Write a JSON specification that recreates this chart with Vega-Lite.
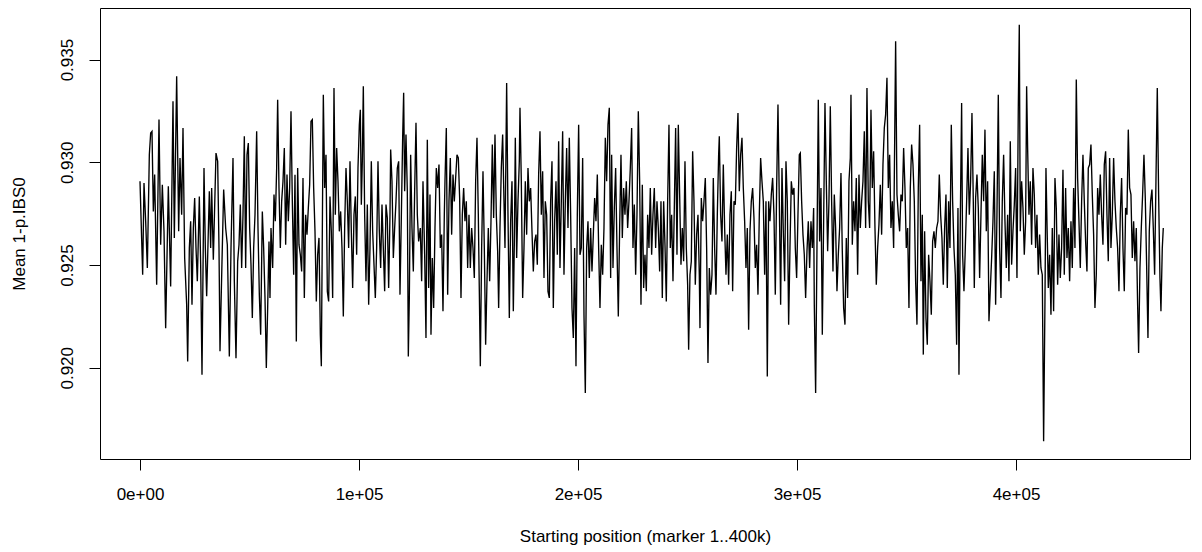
{
"$schema": "https://vega.github.io/schema/vega-lite/v6.json",
"width": 1090, "height": 451,
"autosize": "none",
"padding": {"left": 100, "top": 8, "right": 12, "bottom": 93},
"background": "white",
"config": {"view": {"stroke": "black", "strokeWidth": 1}, "font": "Liberation Sans"},
"data": {"values": [
{"pos":0,"mean":0.92908},{"pos":1218,"mean":0.92453},{"pos":1826,"mean":0.92899},{"pos":2587,"mean":0.92713},{"pos":3348,"mean":0.92486},{"pos":4262,"mean":0.93037},{"pos":4870,"mean":0.93143},{"pos":5479,"mean":0.93151},{"pos":6088,"mean":0.92761},{"pos":6697,"mean":0.9294},{"pos":7610,"mean":0.92404},{"pos":8675,"mean":0.93208},{"pos":9436,"mean":0.92599},{"pos":10197,"mean":0.92891},{"pos":10958,"mean":0.92664},{"pos":11719,"mean":0.92193},{"pos":12937,"mean":0.92883},{"pos":13998,"mean":0.92396},{"pos":15068,"mean":0.93297},{"pos":15677,"mean":0.92632},{"pos":16742,"mean":0.93419},{"pos":17655,"mean":0.92664},{"pos":18264,"mean":0.93021},{"pos":19025,"mean":0.92745},{"pos":19634,"mean":0.93167},{"pos":20395,"mean":0.92534},{"pos":21308,"mean":0.92307},{"pos":21765,"mean":0.92031},{"pos":22527,"mean":0.92583},{"pos":23134,"mean":0.92713},{"pos":23743,"mean":0.92307},{"pos":24352,"mean":0.9268},{"pos":24961,"mean":0.92826},{"pos":25570,"mean":0.92583},{"pos":26178,"mean":0.92421},{"pos":27092,"mean":0.92834},{"pos":27700,"mean":0.92502},{"pos":28309,"mean":0.91966},{"pos":29222,"mean":0.92972},{"pos":29831,"mean":0.92583},{"pos":30440,"mean":0.92348},{"pos":31658,"mean":0.92859},{"pos":32266,"mean":0.92583},{"pos":32723,"mean":0.92875},{"pos":33484,"mean":0.92526},{"pos":34702,"mean":0.93045},{"pos":35463,"mean":0.93005},{"pos":36071,"mean":0.92583},{"pos":36528,"mean":0.9208},{"pos":37441,"mean":0.92518},{"pos":38202,"mean":0.92867},{"pos":39115,"mean":0.9268},{"pos":39876,"mean":0.92599},{"pos":40790,"mean":0.92055},
{"pos":41551,"mean":0.92583},{"pos":42464,"mean":0.93021},{"pos":43073,"mean":0.92421},{"pos":43834,"mean":0.92047},{"pos":44595,"mean":0.92518},{"pos":45203,"mean":0.92599},{"pos":45812,"mean":0.92794},{"pos":46421,"mean":0.92486},{"pos":47030,"mean":0.92745},{"pos":47639,"mean":0.93127},{"pos":48247,"mean":0.92486},{"pos":48856,"mean":0.93037},{"pos":49465,"mean":0.93094},{"pos":50074,"mean":0.9268},{"pos":50683,"mean":0.92502},{"pos":51291,"mean":0.92242},{"pos":51900,"mean":0.92583},{"pos":52509,"mean":0.92745},{"pos":53270,"mean":0.93151},{"pos":53879,"mean":0.9268},{"pos":54488,"mean":0.92356},{"pos":55096,"mean":0.92161},{"pos":55857,"mean":0.92761},{"pos":56466,"mean":0.92583},{"pos":57075,"mean":0.9234},{"pos":57684,"mean":0.91999},{"pos":58293,"mean":0.92291},{"pos":58901,"mean":0.92615},{"pos":59358,"mean":0.9234},{"pos":59815,"mean":0.9268},{"pos":60576,"mean":0.92486},{"pos":61184,"mean":0.92843},{"pos":61793,"mean":0.92713},{"pos":62402,"mean":0.92972},{"pos":62858,"mean":0.93305},{"pos":63467,"mean":0.92875},{"pos":64076,"mean":0.92583},{"pos":64685,"mean":0.9281},{"pos":65294,"mean":0.92908},{"pos":65903,"mean":0.9307},{"pos":66511,"mean":0.92599},{"pos":67120,"mean":0.9294},{"pos":67729,"mean":0.92713},{"pos":68338,"mean":0.92875},{"pos":68947,"mean":0.93248},{"pos":69555,"mean":0.9281},{"pos":70164,"mean":0.92453},{"pos":70773,"mean":0.9294},{"pos":71382,"mean":0.92128},{"pos":71991,"mean":0.92972},{"pos":72599,"mean":0.92599},{"pos":73208,"mean":0.9255},{"pos":73817,"mean":0.92469},{"pos":74426,"mean":0.92924},{"pos":75035,"mean":0.9234},{"pos":75643,"mean":0.92745},{"pos":76252,"mean":0.92648},{"pos":76861,"mean":0.92778},{"pos":77470,"mean":0.92891},{"pos":78079,"mean":0.932},{"pos":78687,"mean":0.93208},{"pos":79296,"mean":0.92875},{"pos":79905,"mean":0.92664},{"pos":80514,"mean":0.92323},{"pos":81123,"mean":0.9255},{"pos":81731,"mean":0.92632},{"pos":82340,"mean":0.92161},{"pos":82797,"mean":0.92007},{"pos":83710,"mean":0.93329},
{"pos":84319,"mean":0.92875},{"pos":84928,"mean":0.93037},{"pos":85536,"mean":0.92372},{"pos":86145,"mean":0.92323},{"pos":86754,"mean":0.92834},{"pos":87363,"mean":0.92664},{"pos":87972,"mean":0.9234},{"pos":88580,"mean":0.93362},{"pos":89189,"mean":0.92745},{"pos":89798,"mean":0.9307},{"pos":90407,"mean":0.92908},{"pos":91016,"mean":0.92664},{"pos":91624,"mean":0.92761},{"pos":92233,"mean":0.92583},{"pos":92842,"mean":0.9225},{"pos":93451,"mean":0.9268},{"pos":94060,"mean":0.92972},{"pos":94668,"mean":0.9281},{"pos":95277,"mean":0.92583},{"pos":95886,"mean":0.93005},{"pos":96495,"mean":0.92664},{"pos":97104,"mean":0.92388},{"pos":97712,"mean":0.92745},{"pos":98321,"mean":0.92834},{"pos":98930,"mean":0.9255},{"pos":99539,"mean":0.92972},{"pos":100148,"mean":0.93183},{"pos":100604,"mean":0.93256},{"pos":101061,"mean":0.92794},{"pos":101517,"mean":0.93005},{"pos":101974,"mean":0.9337},{"pos":102583,"mean":0.92745},{"pos":103192,"mean":0.92421},{"pos":103800,"mean":0.92794},{"pos":104409,"mean":0.92307},{"pos":105018,"mean":0.92583},{"pos":105627,"mean":0.93005},{"pos":106236,"mean":0.92664},{"pos":106844,"mean":0.92502},{"pos":107453,"mean":0.9234},{"pos":108062,"mean":0.92583},{"pos":108671,"mean":0.93005},{"pos":109280,"mean":0.92664},{"pos":109888,"mean":0.92486},{"pos":110497,"mean":0.92794},{"pos":111106,"mean":0.92583},{"pos":111715,"mean":0.92372},{"pos":112324,"mean":0.92794},{"pos":112932,"mean":0.92729},{"pos":113541,"mean":0.92388},{"pos":114150,"mean":0.92745},{"pos":114454,"mean":0.93062},{"pos":115063,"mean":0.92908},{"pos":115672,"mean":0.92534},{"pos":116281,"mean":0.9268},{"pos":116890,"mean":0.9281},{"pos":117498,"mean":0.92972},{"pos":118107,"mean":0.93005},{"pos":118716,"mean":0.92356},{"pos":119325,"mean":0.92729},{"pos":119934,"mean":0.93119},{"pos":120390,"mean":0.93338},{"pos":120847,"mean":0.92859},{"pos":121456,"mean":0.93135},{"pos":122064,"mean":0.92859},{"pos":122521,"mean":0.92055},{"pos":122978,"mean":0.9234},{"pos":123586,"mean":0.93037},{"pos":124195,"mean":0.9268},{"pos":124804,"mean":0.92469},{"pos":125413,"mean":0.92859},{"pos":126022,"mean":0.93192},{"pos":126630,"mean":0.92745},{"pos":127239,"mean":0.92615},
{"pos":128000,"mean":0.9268},{"pos":128609,"mean":0.92421},{"pos":129218,"mean":0.92908},{"pos":129979,"mean":0.9255},{"pos":130588,"mean":0.92145},{"pos":131196,"mean":0.9311},{"pos":131805,"mean":0.92388},{"pos":132414,"mean":0.92843},{"pos":132871,"mean":0.92161},{"pos":133479,"mean":0.92534},{"pos":134088,"mean":0.92291},{"pos":134697,"mean":0.9268},{"pos":135306,"mean":0.92972},{"pos":135915,"mean":0.92875},{"pos":136523,"mean":0.92989},{"pos":137132,"mean":0.92583},{"pos":137741,"mean":0.92648},{"pos":138350,"mean":0.92275},{"pos":138959,"mean":0.92745},{"pos":139263,"mean":0.92908},{"pos":139872,"mean":0.93167},{"pos":140481,"mean":0.92356},{"pos":141089,"mean":0.9281},{"pos":141698,"mean":0.93021},{"pos":142307,"mean":0.92648},{"pos":142916,"mean":0.9294},{"pos":143525,"mean":0.9281},{"pos":144133,"mean":0.92924},{"pos":144742,"mean":0.93037},{"pos":145351,"mean":0.93021},{"pos":145960,"mean":0.92826},{"pos":146569,"mean":0.9234},{"pos":147177,"mean":0.92745},{"pos":147786,"mean":0.92875},{"pos":148395,"mean":0.92713},{"pos":149004,"mean":0.9281},{"pos":149613,"mean":0.92486},{"pos":150221,"mean":0.92745},{"pos":150830,"mean":0.92486},{"pos":151439,"mean":0.9268},{"pos":152048,"mean":0.92583},{"pos":152657,"mean":0.92437},{"pos":153265,"mean":0.92908},{"pos":153874,"mean":0.93119},{"pos":154483,"mean":0.92745},{"pos":154940,"mean":0.92372},{"pos":155396,"mean":0.92007},{"pos":156005,"mean":0.92583},{"pos":156614,"mean":0.92956},{"pos":157223,"mean":0.92583},{"pos":157831,"mean":0.92112},{"pos":158440,"mean":0.92421},{"pos":159049,"mean":0.9268},{"pos":159658,"mean":0.92421},{"pos":160267,"mean":0.92713},{"pos":160875,"mean":0.93086},{"pos":161484,"mean":0.92729},{"pos":162093,"mean":0.93135},{"pos":162702,"mean":0.92745},{"pos":163311,"mean":0.92567},{"pos":163767,"mean":0.92291},{"pos":164376,"mean":0.9268},{"pos":164985,"mean":0.92972},{"pos":165594,"mean":0.93135},{"pos":166202,"mean":0.9281},{"pos":166659,"mean":0.92583},{"pos":167420,"mean":0.93386},{"pos":168029,"mean":0.92745},{"pos":168638,"mean":0.92242},{"pos":169246,"mean":0.92713},{"pos":169855,"mean":0.92908},{"pos":170464,"mean":0.92275},{"pos":170920,"mean":0.92599},
{"pos":171377,"mean":0.93119},{"pos":171986,"mean":0.92534},{"pos":172595,"mean":0.9281},{"pos":173204,"mean":0.93005},{"pos":173508,"mean":0.93265},{"pos":174117,"mean":0.92908},{"pos":174726,"mean":0.9234},{"pos":175334,"mean":0.92583},{"pos":175943,"mean":0.92908},{"pos":176552,"mean":0.92648},{"pos":177161,"mean":0.92972},{"pos":177770,"mean":0.9281},{"pos":178378,"mean":0.92875},{"pos":178987,"mean":0.92664},{"pos":179596,"mean":0.92469},{"pos":180205,"mean":0.92615},{"pos":180814,"mean":0.92648},{"pos":181422,"mean":0.92502},{"pos":182031,"mean":0.9294},{"pos":182640,"mean":0.93151},{"pos":183249,"mean":0.92745},{"pos":183858,"mean":0.92956},{"pos":184466,"mean":0.92437},{"pos":185075,"mean":0.9281},{"pos":185684,"mean":0.92745},{"pos":186293,"mean":0.92372},{"pos":186902,"mean":0.9234},{"pos":187510,"mean":0.9281},{"pos":188119,"mean":0.93005},{"pos":188728,"mean":0.92291},{"pos":189337,"mean":0.92713},{"pos":189946,"mean":0.92908},{"pos":190554,"mean":0.9255},{"pos":191163,"mean":0.93102},{"pos":191772,"mean":0.92486},{"pos":192381,"mean":0.9281},{"pos":192990,"mean":0.93151},{"pos":193598,"mean":0.92453},{"pos":194207,"mean":0.9281},{"pos":194816,"mean":0.9307},{"pos":195425,"mean":0.9268},{"pos":196034,"mean":0.93119},{"pos":196642,"mean":0.92745},{"pos":197251,"mean":0.92291},{"pos":197860,"mean":0.92145},{"pos":198469,"mean":0.92583},{"pos":199078,"mean":0.92007},{"pos":199686,"mean":0.92745},{"pos":200295,"mean":0.93183},{"pos":200904,"mean":0.9255},{"pos":201513,"mean":0.92583},{"pos":202122,"mean":0.93021},{"pos":202730,"mean":0.92258},{"pos":203339,"mean":0.91877},{"pos":203948,"mean":0.92583},{"pos":204557,"mean":0.92713},{"pos":205166,"mean":0.92437},{"pos":205774,"mean":0.9268},{"pos":206383,"mean":0.92469},{"pos":206992,"mean":0.92648},{"pos":207601,"mean":0.92826},{"pos":208210,"mean":0.92713},{"pos":208818,"mean":0.9294},{"pos":209427,"mean":0.92583},{"pos":210036,"mean":0.92291},{"pos":210645,"mean":0.92599},{"pos":211254,"mean":0.92453},{"pos":211862,"mean":0.9268},{"pos":212471,"mean":0.93119},{"pos":213080,"mean":0.92908},{"pos":213689,"mean":0.93183},{"pos":214298,"mean":0.93265},
{"pos":214906,"mean":0.92437},{"pos":215363,"mean":0.93037},{"pos":215972,"mean":0.92486},{"pos":216581,"mean":0.92778},{"pos":217189,"mean":0.92972},{"pos":217798,"mean":0.92583},{"pos":218407,"mean":0.9225},{"pos":219016,"mean":0.9268},{"pos":219625,"mean":0.93037},{"pos":220233,"mean":0.92632},{"pos":220842,"mean":0.92875},{"pos":221451,"mean":0.92745},{"pos":222060,"mean":0.92908},{"pos":222669,"mean":0.9268},{"pos":223277,"mean":0.9281},{"pos":223886,"mean":0.92972},{"pos":224495,"mean":0.93167},{"pos":225104,"mean":0.92583},{"pos":225713,"mean":0.92794},{"pos":226321,"mean":0.92453},{"pos":226930,"mean":0.92745},{"pos":227539,"mean":0.93248},{"pos":228148,"mean":0.92908},{"pos":228757,"mean":0.92307},{"pos":229365,"mean":0.92891},{"pos":229974,"mean":0.92388},{"pos":230583,"mean":0.9255},{"pos":231192,"mean":0.92372},{"pos":231801,"mean":0.92745},{"pos":232409,"mean":0.92583},{"pos":233018,"mean":0.92875},{"pos":233627,"mean":0.9255},{"pos":234236,"mean":0.92745},{"pos":234845,"mean":0.92875},{"pos":235453,"mean":0.92583},{"pos":236062,"mean":0.9281},{"pos":236671,"mean":0.9268},{"pos":237280,"mean":0.92469},{"pos":237889,"mean":0.9281},{"pos":238497,"mean":0.9234},{"pos":239106,"mean":0.9281},{"pos":239715,"mean":0.92599},{"pos":240324,"mean":0.92323},{"pos":240933,"mean":0.9281},{"pos":241541,"mean":0.93183},{"pos":242150,"mean":0.92583},{"pos":242759,"mean":0.92745},{"pos":243368,"mean":0.92421},{"pos":243977,"mean":0.92778},{"pos":244585,"mean":0.93167},{"pos":245194,"mean":0.9255},{"pos":245803,"mean":0.93183},{"pos":246412,"mean":0.92843},{"pos":247021,"mean":0.92502},{"pos":247629,"mean":0.9268},{"pos":248238,"mean":0.92518},{"pos":248847,"mean":0.93005},{"pos":249456,"mean":0.92583},{"pos":250065,"mean":0.92404},{"pos":250521,"mean":0.92088},{"pos":251130,"mean":0.92453},{"pos":251739,"mean":0.92518},{"pos":252348,"mean":0.93054},{"pos":252956,"mean":0.9281},{"pos":253565,"mean":0.92404},{"pos":254174,"mean":0.92648},{"pos":254783,"mean":0.92745},{"pos":255392,"mean":0.92453},{"pos":255696,"mean":0.92193},{"pos":256305,"mean":0.92826},{"pos":256914,"mean":0.92713},{"pos":257522,"mean":0.9281},
{"pos":258131,"mean":0.92924},{"pos":258740,"mean":0.92583},{"pos":259349,"mean":0.92023},{"pos":259958,"mean":0.92486},{"pos":260566,"mean":0.92356},{"pos":261175,"mean":0.92453},{"pos":261784,"mean":0.92924},{"pos":262393,"mean":0.92583},{"pos":263002,"mean":0.92356},{"pos":263610,"mean":0.92745},{"pos":264219,"mean":0.93037},{"pos":264524,"mean":0.93127},{"pos":265132,"mean":0.92745},{"pos":265741,"mean":0.92615},{"pos":266350,"mean":0.92989},{"pos":266959,"mean":0.9268},{"pos":267568,"mean":0.92453},{"pos":268176,"mean":0.92648},{"pos":268785,"mean":0.92404},{"pos":269394,"mean":0.92745},{"pos":270003,"mean":0.92859},{"pos":270612,"mean":0.92372},{"pos":271220,"mean":0.9281},{"pos":271829,"mean":0.92794},{"pos":272438,"mean":0.9307},{"pos":273047,"mean":0.9324},{"pos":273656,"mean":0.92859},{"pos":274264,"mean":0.93037},{"pos":274873,"mean":0.93119},{"pos":275482,"mean":0.92875},{"pos":276091,"mean":0.92713},{"pos":276700,"mean":0.92486},{"pos":277308,"mean":0.9268},{"pos":277917,"mean":0.92185},{"pos":278526,"mean":0.92664},{"pos":279135,"mean":0.9281},{"pos":279744,"mean":0.92875},{"pos":280352,"mean":0.92729},{"pos":280961,"mean":0.92486},{"pos":281570,"mean":0.92599},{"pos":282179,"mean":0.92356},{"pos":282788,"mean":0.92745},{"pos":283396,"mean":0.93021},{"pos":284005,"mean":0.92908},{"pos":284614,"mean":0.9281},{"pos":285223,"mean":0.92453},{"pos":285832,"mean":0.9281},{"pos":286440,"mean":0.91958},{"pos":287049,"mean":0.9281},{"pos":287658,"mean":0.92713},{"pos":288267,"mean":0.92843},{"pos":288876,"mean":0.92924},{"pos":289484,"mean":0.92745},{"pos":290093,"mean":0.92356},{"pos":290702,"mean":0.92875},{"pos":291311,"mean":0.93281},{"pos":291920,"mean":0.9281},{"pos":292528,"mean":0.92307},{"pos":293137,"mean":0.92972},{"pos":293746,"mean":0.92664},{"pos":294355,"mean":0.92421},{"pos":294964,"mean":0.93005},{"pos":295572,"mean":0.9281},{"pos":296181,"mean":0.9221},{"pos":296790,"mean":0.92583},{"pos":297399,"mean":0.92908},{"pos":298008,"mean":0.92843},{"pos":298616,"mean":0.92875},{"pos":299225,"mean":0.92583},{"pos":299834,"mean":0.92437},{"pos":300443,"mean":0.92745},{"pos":301052,"mean":0.93037},
{"pos":301508,"mean":0.93045},{"pos":302117,"mean":0.9281},{"pos":302726,"mean":0.92648},{"pos":303335,"mean":0.9255},{"pos":303943,"mean":0.9234},{"pos":304552,"mean":0.92567},{"pos":305161,"mean":0.92713},{"pos":305770,"mean":0.92486},{"pos":306379,"mean":0.92713},{"pos":306987,"mean":0.92583},{"pos":307596,"mean":0.92778},{"pos":307901,"mean":0.92307},{"pos":308509,"mean":0.91877},{"pos":309118,"mean":0.92583},{"pos":309727,"mean":0.93305},{"pos":310336,"mean":0.92615},{"pos":310945,"mean":0.92875},{"pos":311553,"mean":0.92161},{"pos":312162,"mean":0.92713},{"pos":312771,"mean":0.93289},{"pos":313380,"mean":0.92908},{"pos":313989,"mean":0.92567},{"pos":314597,"mean":0.9281},{"pos":315206,"mean":0.93273},{"pos":315815,"mean":0.9281},{"pos":316424,"mean":0.92469},{"pos":317033,"mean":0.92843},{"pos":317641,"mean":0.9268},{"pos":318250,"mean":0.92372},{"pos":318859,"mean":0.9255},{"pos":319468,"mean":0.9268},{"pos":320077,"mean":0.92948},{"pos":320685,"mean":0.92567},{"pos":321294,"mean":0.92291},{"pos":321903,"mean":0.9221},{"pos":322512,"mean":0.92632},{"pos":323121,"mean":0.9234},{"pos":323729,"mean":0.92908},{"pos":324338,"mean":0.93021},{"pos":324643,"mean":0.93329},{"pos":325251,"mean":0.92599},{"pos":325860,"mean":0.9281},{"pos":326469,"mean":0.92664},{"pos":327078,"mean":0.92924},{"pos":327687,"mean":0.92453},{"pos":328295,"mean":0.9294},{"pos":328904,"mean":0.9268},{"pos":329513,"mean":0.9281},{"pos":330122,"mean":0.92908},{"pos":330731,"mean":0.93151},{"pos":331339,"mean":0.9268},{"pos":331948,"mean":0.93362},{"pos":332557,"mean":0.9281},{"pos":333166,"mean":0.9268},{"pos":333775,"mean":0.93256},{"pos":334383,"mean":0.92875},{"pos":334992,"mean":0.93054},{"pos":335601,"mean":0.9268},{"pos":336210,"mean":0.92404},{"pos":336819,"mean":0.92583},{"pos":337427,"mean":0.92697},{"pos":338036,"mean":0.92891},{"pos":338645,"mean":0.92648},{"pos":339254,"mean":0.92989},{"pos":339863,"mean":0.93167},{"pos":340471,"mean":0.93232},{"pos":341080,"mean":0.93411},{"pos":341689,"mean":0.92875},{"pos":342298,"mean":0.93037},{"pos":342907,"mean":0.9268},{"pos":343515,"mean":0.9281},{"pos":344124,"mean":0.92583},
{"pos":345037,"mean":0.93589},{"pos":345646,"mean":0.92843},{"pos":346255,"mean":0.92745},{"pos":346864,"mean":0.92664},{"pos":347473,"mean":0.92843},{"pos":348081,"mean":0.9281},{"pos":348690,"mean":0.9307},{"pos":349299,"mean":0.92875},{"pos":349908,"mean":0.92583},{"pos":350517,"mean":0.9268},{"pos":351125,"mean":0.92291},{"pos":351734,"mean":0.92875},{"pos":352343,"mean":0.93086},{"pos":352952,"mean":0.92989},{"pos":353561,"mean":0.9281},{"pos":354169,"mean":0.92421},{"pos":354778,"mean":0.9221},{"pos":355387,"mean":0.92875},{"pos":355996,"mean":0.93183},{"pos":356605,"mean":0.92421},{"pos":357213,"mean":0.92745},{"pos":357670,"mean":0.92064},{"pos":358279,"mean":0.92664},{"pos":358888,"mean":0.92242},{"pos":359496,"mean":0.92112},{"pos":360105,"mean":0.9255},{"pos":360714,"mean":0.92421},{"pos":361323,"mean":0.92258},{"pos":361932,"mean":0.92615},{"pos":362540,"mean":0.92664},{"pos":363149,"mean":0.92583},{"pos":363758,"mean":0.9268},{"pos":364367,"mean":0.92713},{"pos":364976,"mean":0.9294},{"pos":365584,"mean":0.92745},{"pos":366193,"mean":0.92632},{"pos":366802,"mean":0.92404},{"pos":367411,"mean":0.9268},{"pos":368020,"mean":0.92843},{"pos":368628,"mean":0.92388},{"pos":369237,"mean":0.9281},{"pos":369846,"mean":0.92583},{"pos":370455,"mean":0.93183},{"pos":371064,"mean":0.9281},{"pos":371672,"mean":0.92583},{"pos":372281,"mean":0.92453},{"pos":372890,"mean":0.92112},{"pos":373499,"mean":0.92778},{"pos":373955,"mean":0.91966},{"pos":374564,"mean":0.92713},{"pos":375173,"mean":0.93289},{"pos":375630,"mean":0.9255},{"pos":376238,"mean":0.92372},{"pos":376847,"mean":0.92583},{"pos":377456,"mean":0.9281},{"pos":378065,"mean":0.9307},{"pos":378674,"mean":0.92745},{"pos":379282,"mean":0.92908},{"pos":379891,"mean":0.9324},{"pos":380500,"mean":0.9281},{"pos":380957,"mean":0.92388},{"pos":381565,"mean":0.92826},{"pos":382174,"mean":0.9294},{"pos":382783,"mean":0.92778},{"pos":383392,"mean":0.92437},{"pos":384001,"mean":0.92745},{"pos":384609,"mean":0.93037},{"pos":385218,"mean":0.9281},{"pos":385827,"mean":0.93159},{"pos":386436,"mean":0.92664},{"pos":387045,"mean":0.92908},{"pos":387653,"mean":0.92226},
{"pos":388871,"mean":0.92534},{"pos":389480,"mean":0.92713},{"pos":390089,"mean":0.92956},{"pos":390697,"mean":0.92307},{"pos":391306,"mean":0.92745},{"pos":391915,"mean":0.93329},{"pos":392524,"mean":0.92583},{"pos":393133,"mean":0.9234},{"pos":393741,"mean":0.9281},{"pos":394350,"mean":0.93037},{"pos":394959,"mean":0.92713},{"pos":395568,"mean":0.92486},{"pos":396177,"mean":0.92745},{"pos":396785,"mean":0.92421},{"pos":397394,"mean":0.93102},{"pos":398003,"mean":0.92502},{"pos":398612,"mean":0.92664},{"pos":399221,"mean":0.92794},{"pos":399829,"mean":0.92972},{"pos":400438,"mean":0.92437},{"pos":401047,"mean":0.93265},{"pos":401504,"mean":0.9367},{"pos":401960,"mean":0.92664},{"pos":402569,"mean":0.92908},{"pos":403178,"mean":0.92778},{"pos":403787,"mean":0.9255},{"pos":404396,"mean":0.92713},{"pos":404852,"mean":0.9337},{"pos":405309,"mean":0.9307},{"pos":405917,"mean":0.92745},{"pos":406526,"mean":0.92908},{"pos":407135,"mean":0.92599},{"pos":407744,"mean":0.92972},{"pos":408353,"mean":0.92843},{"pos":408961,"mean":0.92583},{"pos":409570,"mean":0.92745},{"pos":410179,"mean":0.92453},{"pos":410788,"mean":0.92648},{"pos":411397,"mean":0.92486},{"pos":412005,"mean":0.92453},{"pos":412614,"mean":0.91642},{"pos":413223,"mean":0.92323},{"pos":413680,"mean":0.92972},{"pos":414136,"mean":0.92713},{"pos":414745,"mean":0.92388},{"pos":415354,"mean":0.9255},{"pos":415963,"mean":0.92258},{"pos":416571,"mean":0.9268},{"pos":417180,"mean":0.92275},{"pos":417789,"mean":0.92924},{"pos":418398,"mean":0.92778},{"pos":419007,"mean":0.92404},{"pos":419615,"mean":0.92648},{"pos":420224,"mean":0.92437},{"pos":420833,"mean":0.92583},{"pos":421442,"mean":0.92964},{"pos":422051,"mean":0.92453},{"pos":422659,"mean":0.92875},{"pos":423268,"mean":0.92534},{"pos":423877,"mean":0.9268},{"pos":424486,"mean":0.92421},{"pos":425095,"mean":0.92713},{"pos":425703,"mean":0.92486},{"pos":426312,"mean":0.92875},{"pos":426921,"mean":0.92583},{"pos":427530,"mean":0.93403},{"pos":428139,"mean":0.92924},{"pos":428747,"mean":0.92713},{"pos":429356,"mean":0.92486},{"pos":429965,"mean":0.9281},{"pos":430574,"mean":0.93037},{"pos":431183,"mean":0.9281},
{"pos":431791,"mean":0.92615},{"pos":432400,"mean":0.92469},{"pos":433009,"mean":0.92972},{"pos":433618,"mean":0.92989},{"pos":434227,"mean":0.93086},{"pos":434835,"mean":0.92843},{"pos":435444,"mean":0.92648},{"pos":436053,"mean":0.92291},{"pos":436662,"mean":0.92453},{"pos":437271,"mean":0.92875},{"pos":437879,"mean":0.92745},{"pos":438488,"mean":0.9294},{"pos":439097,"mean":0.92745},{"pos":439706,"mean":0.92599},{"pos":440315,"mean":0.92989},{"pos":440923,"mean":0.93054},{"pos":441532,"mean":0.92745},{"pos":442141,"mean":0.92518},{"pos":442750,"mean":0.93021},{"pos":443359,"mean":0.92583},{"pos":443967,"mean":0.92745},{"pos":444576,"mean":0.93021},{"pos":445185,"mean":0.9281},{"pos":445794,"mean":0.9268},{"pos":446403,"mean":0.92583},{"pos":447011,"mean":0.92372},{"pos":447620,"mean":0.92745},{"pos":448229,"mean":0.92924},{"pos":448838,"mean":0.92583},{"pos":449447,"mean":0.92372},{"pos":450055,"mean":0.92778},{"pos":450664,"mean":0.92745},{"pos":451273,"mean":0.93159},{"pos":451882,"mean":0.92875},{"pos":452491,"mean":0.92843},{"pos":453099,"mean":0.92534},{"pos":453708,"mean":0.92713},{"pos":454317,"mean":0.92518},{"pos":454926,"mean":0.9268},{"pos":455535,"mean":0.92307},{"pos":455991,"mean":0.92072},{"pos":456600,"mean":0.92486},{"pos":457209,"mean":0.9268},{"pos":457818,"mean":0.92843},{"pos":458426,"mean":0.93037},{"pos":459035,"mean":0.92826},{"pos":459644,"mean":0.92502},{"pos":460253,"mean":0.92145},{"pos":460862,"mean":0.92664},{"pos":461470,"mean":0.9281},{"pos":462079,"mean":0.92867},{"pos":462688,"mean":0.9268},{"pos":463297,"mean":0.92453},{"pos":463906,"mean":0.92908},{"pos":464514,"mean":0.93362},{"pos":465123,"mean":0.92843},{"pos":465732,"mean":0.92437},{"pos":466189,"mean":0.92275},{"pos":466797,"mean":0.92583},{"pos":467254,"mean":0.9268}
]},
"mark": {"type": "line", "color": "black", "strokeWidth": 1.35},
"encoding": {
"x": {"field": "pos", "type": "quantitative",
 "scale": {"domain": [-18265, 479452], "nice": false, "zero": false},
 "axis": {"values": [0, 100000, 200000, 300000, 400000],
  "labelExpr": "datum.value == 0 ? '0e+00' : (datum.value / 100000) + 'e+05'",
  "title": "Starting position (marker 1..400k)", "grid": false, "domain": false,
  "tickColor": "black", "tickSize": 11, "labelFontSize": 17, "labelColor": "black",
  "labelPadding": 16, "titleFontSize": 17, "titleFontWeight": "normal", "titleColor": "black",
  "titlePadding": 26, "labelFont": "Liberation Sans", "titleFont": "Liberation Sans"}},
"y": {"field": "mean", "type": "quantitative",
 "scale": {"domain": [0.91556, 0.93751], "nice": false, "zero": false},
 "axis": {"values": [0.92, 0.925, 0.93, 0.935], "format": ".3f",
  "title": "Mean 1-p.IBS0", "grid": false, "domain": false,
  "tickColor": "black", "tickSize": 11, "labelFontSize": 17, "labelColor": "black",
  "labelAngle": 270, "labelAlign": "center", "labelBaseline": "bottom", "labelPadding": 13,
  "titleFontSize": 17, "titleFontWeight": "normal", "titleColor": "black",
  "titlePadding": 30, "labelFont": "Liberation Sans", "titleFont": "Liberation Sans"}}
}
}
